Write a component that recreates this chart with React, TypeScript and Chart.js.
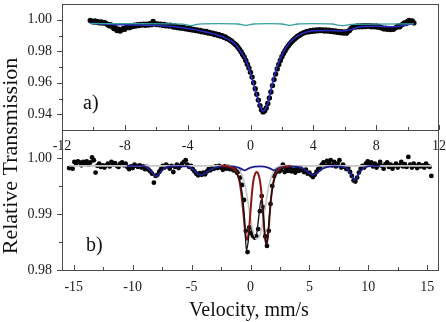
import { useEffect, useRef } from "react";
import { Chart, registerables } from "chart.js";

Chart.register(...registerables);

const W = 446;
const H = 322;
const FONT = "'Liberation Serif', 'Times New Roman', serif";

// ---------- Panel a) ----------
const velAStart = -10.2;
const velAStep = 0.1;
const transA = [
  0.9995, 0.9991, 0.9986, 0.9993, 0.9984, 0.9988, 0.998, 0.9986, 0.9979, 0.9983,
  0.9976, 0.997, 0.9962, 0.9968, 0.9955, 0.9944, 0.995, 0.9932, 0.994, 0.9928,
  0.9936, 0.9945, 0.994, 0.9952, 0.9958, 0.995, 0.9962, 0.9957, 0.9966, 0.996,
  0.9968, 0.9963, 0.997, 0.9966, 0.9972, 0.9965, 0.9971, 0.9967, 0.9975, 0.9969,
  0.999, 0.9976, 0.997, 0.9974, 0.9968, 0.9972, 0.9965, 0.997, 0.9962, 0.9966,
  0.996, 0.9965, 0.9958, 0.9954, 0.996, 0.9951, 0.9955, 0.9948, 0.9953, 0.9946,
  0.995, 0.9942, 0.9946, 0.9938, 0.9943, 0.9935, 0.9939, 0.9931, 0.9936, 0.9928,
  0.9932, 0.9924, 0.9928, 0.992, 0.9925, 0.9916, 0.992, 0.9912, 0.9915, 0.9906,
  0.991, 0.9902, 0.9905, 0.9896, 0.9899, 0.9889, 0.9891, 0.988, 0.9878, 0.987,
  0.9864, 0.9855, 0.9846, 0.9838, 0.9826, 0.9812, 0.9797, 0.978, 0.9763, 0.9742,
  0.9718, 0.9694, 0.9666, 0.9636, 0.96, 0.9562, 0.9527, 0.949, 0.9455, 0.9428,
  0.9415, 0.9422, 0.944, 0.9468, 0.9503, 0.9541, 0.9582, 0.962, 0.9655, 0.9688,
  0.9716, 0.9742, 0.9765, 0.9786, 0.9803, 0.982, 0.9834, 0.9847, 0.9858, 0.9868,
  0.9878, 0.9886, 0.9895, 0.99, 0.9908, 0.9912, 0.9918, 0.9921, 0.9926, 0.9923,
  0.993, 0.9926, 0.9933, 0.9928, 0.9935, 0.993, 0.9937, 0.9931, 0.9936, 0.9929,
  0.9935, 0.9928, 0.9933, 0.9926, 0.9931, 0.9924, 0.9929, 0.992, 0.9926, 0.9918,
  0.9924, 0.9916, 0.9922, 0.9915, 0.9925, 0.9932, 0.9945, 0.9952, 0.9958, 0.9954,
  0.996, 0.9955, 0.9961, 0.9956, 0.9962, 0.9957, 0.9963, 0.9958, 0.9962, 0.9956,
  0.9961, 0.9955, 0.996, 0.9953, 0.9958, 0.995, 0.9948, 0.9942, 0.9946, 0.994,
  0.9944, 0.9938, 0.9943, 0.994, 0.9947, 0.9952, 0.996, 0.9956, 0.9966, 0.9972,
  0.998, 0.9976, 0.999, 0.9995, 0.9988, 0.9992, 0.998,
];

// total fit
const fitA: [number, number][] = [
  [-10.2, 0.9978], [-9, 0.9972], [-8, 0.9968], [-7, 0.9966], [-6, 0.9964],
  [-5, 0.9957], [-4, 0.9944], [-3, 0.9926], [-2.5, 0.9914], [-2, 0.99],
  [-1.5, 0.988], [-1, 0.9848], [-0.6, 0.9795], [-0.3, 0.9745], [0, 0.966],
  [0.3, 0.9555], [0.5, 0.9485], [0.7, 0.943], [0.8, 0.942], [0.9, 0.9425],
  [1.1, 0.947], [1.3, 0.9555], [1.5, 0.964], [1.8, 0.973], [2.1, 0.9795],
  [2.5, 0.9855], [3, 0.9898], [3.5, 0.992], [4, 0.993], [5, 0.9932],
  [5.8, 0.9928], [6.3, 0.9935], [7, 0.9955], [8, 0.9958], [9, 0.9955],
  [9.7, 0.9964], [10.4, 0.9975],
];

// magnetic sub-spectrum
const subA: [number, number][] = [
  [-10.2, 0.9976], [-8, 0.9975], [-5, 0.9974], [-4.3, 0.9972], [-3.8, 0.9963],
  [-3.3, 0.9972], [-2, 0.9975], [-0.8, 0.9973], [-0.3, 0.9964], [0.2, 0.9973],
  [1.2, 0.9976], [2.0, 0.9973], [2.5, 0.9964], [3.0, 0.9973], [4.0, 0.9976],
  [5.2, 0.9973], [5.8, 0.9963], [6.4, 0.997], [8, 0.9972], [10.4, 0.9974],
];

const xTicksA = [-12, -8, -4, 0, 4, 8, 12];
const xMinorA = [-10, -6, -2, 2, 6, 10];
const yTicksA = [0.94, 0.96, 0.98, 1.0];
const yMinorA = [0.95, 0.97, 0.99];

// ---------- Panel b) ----------
const velBStart = -15.4;
const velBStep = 0.15;
const transB = [
  0.9982, 0.9983, 0.9981, 0.9993, 0.999, 0.9994, 0.9992, 0.9987, 0.9993, 0.999,
  0.9994, 0.9988, 0.9992, 1.0001, 0.9996, 0.9974, 0.9986, 0.999, 0.9984, 0.9987,
  0.9983, 0.9987, 0.999, 0.9985, 0.9993, 0.9988, 0.9991, 0.9986, 0.9984, 0.999,
  0.9992, 0.9987, 0.999, 0.9984, 0.998, 0.9985, 0.9982, 0.9988, 0.9986, 0.9984,
  0.9987, 0.9983, 0.9985, 0.998, 0.9984, 0.9979, 0.9976, 0.9972, 0.9956, 0.9968,
  0.997, 0.9975, 0.998, 0.9986, 0.9983, 0.9988, 0.9985, 0.9981, 0.9986, 0.9975,
  0.9984, 0.9988, 0.9982, 0.9986, 0.999, 0.9993, 0.9996, 0.9988, 0.9984, 0.9986,
  0.998, 0.9976, 0.9972, 0.9969, 0.9973, 0.997, 0.9974, 0.9971, 0.9976, 0.998,
  0.9978, 0.9983, 0.9981, 0.9985, 0.9982, 0.9986, 0.9983, 0.9979, 0.9985, 0.9981,
  0.9984, 0.998, 0.9983, 0.9978, 0.998, 0.9974, 0.9976, 0.9965, 0.9952, 0.9925,
  0.987, 0.9832, 0.9876, 0.9866, 0.9861, 0.9858, 0.986, 0.9873, 0.9905, 0.9932,
  0.9912, 0.986, 0.9843, 0.987, 0.9918, 0.995, 0.9968, 0.9975, 0.998, 0.9976,
  0.9979, 0.9988, 0.9975, 0.998, 0.9977, 0.9983, 0.9976, 0.9979, 0.9974, 0.9981,
  0.9977, 0.9982, 0.9978, 0.9975, 0.9979, 0.9972, 0.9974, 0.9969, 0.9966, 0.997,
  0.9975, 0.998, 0.9984, 0.9988, 0.9992, 0.9986, 0.9995, 0.999, 0.9996, 0.9987,
  0.9993, 0.9985, 0.999, 0.9996, 0.9983, 0.9988, 0.9984, 0.998, 0.9982, 0.9975,
  0.9968, 0.996, 0.9958, 0.9965, 0.9974, 0.9981, 0.9986, 0.9983, 0.999, 0.9994,
  0.9988, 0.9992, 0.9985, 0.999, 0.9983, 0.9987, 0.9993, 0.9986, 0.9981, 0.9989,
  0.9992, 0.9984, 0.9988, 0.9981, 0.9986, 0.999, 0.9983, 0.9987, 0.9993, 0.9985,
  0.9989, 0.9984, 1.0002, 0.9988, 0.9983, 0.999, 0.9986, 0.9982, 0.9989, 0.9985,
  0.9987, 0.9983, 0.999, 0.9986, 0.9984, 0.9968,
];

// paramagnetic component + baseline
const grayB: [number, number][] = [
  [-15.4, 0.9986], [-1.5, 0.9986], [-1.0, 0.998], [-0.7, 0.9968], [-0.4, 0.9945],
  [-0.15, 0.9912], [0.1, 0.988], [0.3, 0.9862], [0.55, 0.9856], [0.8, 0.9862],
  [1.0, 0.988], [1.25, 0.9912], [1.5, 0.9945], [1.8, 0.9968], [2.1, 0.998],
  [2.6, 0.9986], [15.4, 0.9986],
];

// magnetic sextet
const blueB: [number, number][] = [
  [-10.5, 0.9986], [-9.2, 0.9986], [-8.7, 0.9982], [-8.35, 0.9974], [-8.0, 0.9967],
  [-7.65, 0.9974], [-7.3, 0.9982], [-6.8, 0.9985], [-5.4, 0.9985], [-4.9, 0.998],
  [-4.5, 0.9972], [-4.2, 0.997], [-3.9, 0.9972], [-3.5, 0.9978], [-3.0, 0.9983],
  [-2.0, 0.9985], [-1.0, 0.9983], [-0.5, 0.9978], [0, 0.9983], [0.8, 0.9985],
  [1.5, 0.9983], [2.0, 0.9978], [2.5, 0.9983], [3.5, 0.9985], [4.4, 0.9982],
  [4.9, 0.9974], [5.3, 0.997], [5.7, 0.9974], [6.2, 0.9982], [7.0, 0.9985],
  [8.1, 0.9983], [8.5, 0.9972], [8.85, 0.9961], [9.2, 0.9972], [9.6, 0.9982],
  [10.5, 0.9986], [11, 0.9986],
];

// quadrupole doublet
const redB: [number, number][] = [
  [-2.5, 0.9986], [-1.6, 0.9983], [-1.2, 0.9975], [-0.95, 0.996], [-0.8, 0.994],
  [-0.65, 0.9912], [-0.5, 0.9878], [-0.4, 0.986], [-0.3, 0.9854], [-0.2, 0.986],
  [-0.1, 0.9878], [0.0, 0.9905], [0.1, 0.9932], [0.25, 0.996], [0.4, 0.9972],
  [0.53, 0.9975], [0.65, 0.9972], [0.8, 0.996], [0.95, 0.9932], [1.05, 0.9905],
  [1.15, 0.9876], [1.25, 0.9855], [1.35, 0.9846], [1.45, 0.9855], [1.55, 0.9876],
  [1.65, 0.9905], [1.8, 0.9938], [1.95, 0.9958], [2.2, 0.9974], [2.6, 0.9982],
  [3.4, 0.9986],
];

// total fit through the central lines
const totalB: [number, number][] = [
  [-2.0, 0.9982], [-1.5, 0.9978], [-1.0, 0.9965], [-0.7, 0.9935], [-0.5, 0.989],
  [-0.35, 0.9835], [-0.2, 0.985], [-0.05, 0.9878], [0.1, 0.9868], [0.3, 0.9858],
  [0.5, 0.9862], [0.7, 0.9895], [0.9, 0.9925], [1.05, 0.991], [1.2, 0.987],
  [1.35, 0.9843], [1.5, 0.9868], [1.7, 0.992], [2.0, 0.996], [2.5, 0.9978],
  [3.0, 0.9983],
];

const xTicksB = [-15, -10, -5, 0, 5, 10, 15];
const xMinorB = [-12.5, -7.5, -2.5, 2.5, 7.5, 12.5];
const yTicksB = [0.98, 0.99, 1.0];
const yMinorB = [0.985, 0.995];

type Area = { left: number; right: number; top: number; bottom: number };
const areaA: Area = { left: 62, right: 439, top: 4, bottom: 130 };
const areaB: Area = { left: 62, right: 439, top: 130, bottom: 270 };

const pts = (arr: [number, number][]) => arr.map(([x, y]) => ({ x, y }));
const grid = (start: number, step: number, ys: number[]) =>
  ys.map((y, i) => ({ x: +(start + i * step).toFixed(3), y }));

function curve(data: { x: number; y: number }[], color: string, width: number, order: number) {
  return {
    data,
    showLine: true,
    borderColor: color,
    borderWidth: width,
    pointRadius: 0,
    tension: 0.4,
    cubicInterpolationMode: "monotone" as const,
    order,
  };
}

function dots(data: { x: number; y: number }[], r: number, order: number) {
  return {
    data,
    showLine: false,
    pointRadius: r,
    pointBackgroundColor: "#050505",
    pointBorderWidth: 0,
    borderWidth: 0,
    order,
  };
}

function axesPlugin(
  id: string,
  xMajor: number[],
  xMinor: number[],
  yMajor: number[],
  yMinor: number[],
  extra: (ctx: CanvasRenderingContext2D) => void
) {
  return {
    id,
    afterDraw(chart: any) {
      const ctx: CanvasRenderingContext2D = chart.ctx;
      const { left, right, top, bottom } = chart.chartArea;
      const xs = chart.scales.x;
      const ys = chart.scales.y;
      ctx.save();
      ctx.strokeStyle = "#4a4a4a";
      ctx.lineWidth = 1;
      ctx.strokeRect(left + 0.5, top + 0.5, right - left - 1, bottom - top);
      ctx.beginPath();
      // x ticks point inward
      for (const v of xMajor) {
        const px = Math.round(xs.getPixelForValue(v)) + 0.5;
        ctx.moveTo(px, bottom);
        ctx.lineTo(px, bottom - 5);
      }
      for (const v of xMinor) {
        const px = Math.round(xs.getPixelForValue(v)) + 0.5;
        ctx.moveTo(px, bottom);
        ctx.lineTo(px, bottom - 3);
      }
      // y ticks point outward
      for (const v of yMajor) {
        const py = Math.round(ys.getPixelForValue(v)) + 0.5;
        ctx.moveTo(left, py);
        ctx.lineTo(left - 5, py);
      }
      for (const v of yMinor) {
        const py = Math.round(ys.getPixelForValue(v)) + 0.5;
        ctx.moveTo(left, py);
        ctx.lineTo(left - 3, py);
      }
      ctx.stroke();
      ctx.fillStyle = "#111";
      extra(ctx);
      ctx.restore();
    },
  };
}

function panelOptions(
  area: Area,
  xMin: number,
  xMax: number,
  yMin: number,
  yMax: number,
  xTicks: number[],
  yTicks: number[],
  xPad: number
) {
  const font = { family: FONT, size: 14 };
  return {
    responsive: false,
    animation: false as const,
    events: [],
    layout: {
      autoPadding: false,
      padding: { left: 0, top: area.top, right: W - area.right, bottom: 0 },
    },
    plugins: { legend: { display: false }, tooltip: { enabled: false } },
    scales: {
      x: {
        type: "linear" as const,
        min: xMin,
        max: xMax,
        grid: { display: false, drawTicks: false },
        border: { display: false },
        ticks: {
          padding: xPad,
          font,
          color: "#1a1a1a",
          maxRotation: 0,
          autoSkip: false,
          callback: (v: any) => String(v),
        },
        afterBuildTicks: (s: any) => {
          s.ticks = xTicks.map((value) => ({ value }));
        },
        afterFit: (s: any) => {
          s.height = H - area.bottom;
          s.paddingLeft = 0;
          s.paddingRight = 0;
        },
      },
      y: {
        type: "linear" as const,
        min: yMin,
        max: yMax,
        grid: { display: false, drawTicks: false },
        border: { display: false },
        ticks: {
          padding: 10,
          font,
          color: "#1a1a1a",
          autoSkip: false,
          callback: (v: any) => Number(v).toFixed(2),
        },
        afterBuildTicks: (s: any) => {
          s.ticks = yTicks.map((value) => ({ value }));
        },
        afterFit: (s: any) => {
          s.width = area.left;
          s.paddingTop = 0;
          s.paddingBottom = 0;
        },
      },
    },
  };
}

export default function App() {
  const refA = useRef<HTMLCanvasElement>(null);
  const refB = useRef<HTMLCanvasElement>(null);

  useEffect(() => {
    const chartA = new Chart(refA.current!, {
      type: "scatter",
      data: {
        datasets: [
          curve(pts(subA), "#35a0a0", 1.3, 0),
          curve(pts(fitA), "#2a2ac8", 1.5, 1),
          dots(grid(velAStart, velAStep, transA), 2.7, 2),
        ] as any,
      },
      options: panelOptions(areaA, -12, 12, 0.93, 1.01, xTicksA, yTicksA, 8) as any,
      plugins: [
        axesPlugin("axesA", xTicksA, xMinorA, yTicksA, yMinorA, (ctx) => {
          ctx.font = `20px ${FONT}`;
          ctx.textAlign = "left";
          ctx.textBaseline = "middle";
          ctx.fillText("a)", 83, 104);
        }),
      ],
    });

    const chartB = new Chart(refB.current!, {
      type: "scatter",
      data: {
        datasets: [
          curve(pts(totalB), "#111111", 1.3, 0),
          curve(pts(redB), "#8e1414", 2, 1),
          curve(pts(blueB), "#1e1e90", 1.8, 2),
          curve(pts(grayB), "#c6c6c6", 1.6, 3),
          dots(grid(velBStart, velBStep, transB), 2.4, 4),
        ] as any,
      },
      options: panelOptions(areaB, -16, 16, 0.98, 1.005, xTicksB, yTicksB, 9) as any,
      plugins: [
        axesPlugin("axesB", xTicksB, xMinorB, yTicksB, yMinorB, (ctx) => {
          ctx.font = `20px ${FONT}`;
          ctx.textAlign = "left";
          ctx.textBaseline = "middle";
          ctx.fillText("b)", 86, 246);
          ctx.textAlign = "center";
          ctx.fillText("Velocity, mm/s", 249, 311);
          ctx.translate(11, 156);
          ctx.rotate(-Math.PI / 2);
          ctx.font = `22px ${FONT}`;
          ctx.fillText("Relative Transmission", 0, 0);
        }),
      ],
    });

    return () => {
      chartA.destroy();
      chartB.destroy();
    };
  }, []);

  const canvasStyle: React.CSSProperties = { position: "absolute", left: 0, top: 0 };
  return (
    <div style={{ position: "absolute", left: 0, top: 0, width: W, height: H, background: "#fff" }}>
      <canvas ref={refA} width={W} height={H} style={canvasStyle} />
      <canvas ref={refB} width={W} height={H} style={canvasStyle} />
    </div>
  );
}
